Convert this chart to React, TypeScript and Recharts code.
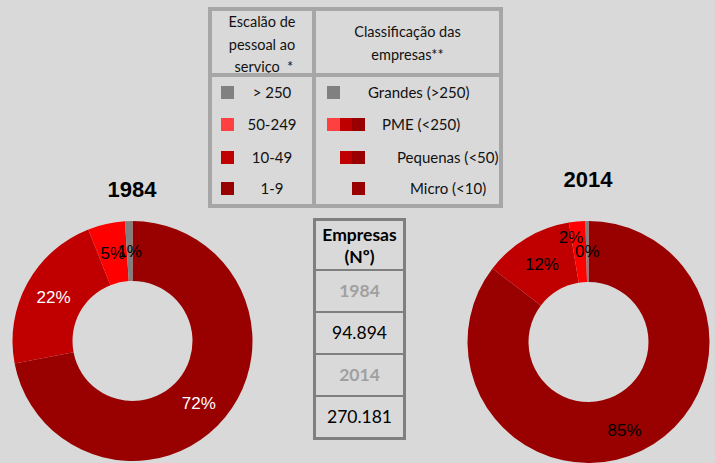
import React from 'react';
import { PieChart, Pie, Cell } from 'recharts';

// staff size classes, in the order the slices run clockwise from 12 o'clock
const sizeClasses = ['1-9', '10-49', '50-249', '> 250'];
const share1984 = [72, 22, 5, 1];
const share2014 = [85.4, 12, 2.2, 0.4];

const legendSizes = ['> 250', '50-249', '10-49', '1-9'];
const classLabels = ['Grandes (>250)', 'PME (<250)', 'Pequenas (<50)', 'Micro (<10)'];
const companyYears = ['1984', '2014'];
const companyCounts = ['94.894', '270.181'];

const SLICE_COLORS = ['#990000', '#c00000', '#ff0000', '#808080'];
const LEGEND_COLORS = ['#808080', '#ff4040', '#c00000', '#990000'];
const CLASS_SWATCHES = [
  ['#808080'],
  ['#ff4040', '#c00000', '#990000'],
  ['#c00000', '#990000'],
  ['#990000'],
];
const CLASS_SWATCH_LEFT = [327, 327, 339.5, 352];
const CLASS_TEXT_LEFT = [368, 382, 397, 410];
const ROW_Y = [92, 124, 157, 188];

const LABEL_COLORS_1984 = ['#ffffff', '#ffffff', '#000000', '#000000'];
const LABEL_COLORS_2014 = ['#000000', '#000000', '#000000', '#000000'];
const NUDGE_1984 = [[-3, 5], [0, 0], [0, 0], [0, 0]];
const NUDGE_2014 = [[-4, 7], [0, 0], [-9, -14], [0, 0]];

const BG = '#d9d9d9';
const SANS = '"Liberation Sans", Arial, sans-serif';
const CAL = 'Lato, "Open Sans", sans-serif';

const data1984 = sizeClasses.map((name, i) => ({ name, value: share1984[i] }));
const data2014 = sizeClasses.map((name, i) => ({ name, value: share2014[i] }));

const RAD = Math.PI / 180;

const makeLabel = (colors: string[], nudges: number[][]) => (props: any) => {
  const { cx, cy, midAngle, innerRadius, outerRadius, percent, index } = props;
  const r = (innerRadius + outerRadius) / 2;
  const x = cx + r * Math.cos(-midAngle * RAD) + nudges[index][0];
  const y = cy + r * Math.sin(-midAngle * RAD) + nudges[index][1];
  return (
    <text
      x={x}
      y={y}
      fill={colors[index]}
      textAnchor="middle"
      dominantBaseline="central"
      fontSize={17}
      fontFamily={SANS}
    >
      {`${Math.round(percent * 100)}%`}
    </text>
  );
};

const abs = (s: React.CSSProperties): React.CSSProperties => ({ position: 'absolute', ...s });

export default function App() {
  return (
    <div style={abs({ left: 0, top: 0, width: 715, height: 463, background: BG, overflow: 'hidden' })}>
      <PieChart width={715} height={463} margin={{ top: 0, right: 0, bottom: 0, left: 0 }}>
        <Pie
          data={data1984}
          dataKey="value"
          cx={132.5}
          cy={341}
          innerRadius={60}
          outerRadius={120}
          startAngle={90}
          endAngle={-270}
          stroke="none"
          labelLine={false}
          label={makeLabel(LABEL_COLORS_1984, NUDGE_1984)}
          isAnimationActive={false}
        >
          {data1984.map((d, i) => <Cell key={`a-${i}`} fill={SLICE_COLORS[i]} />)}
        </Pie>
        <Pie
          data={data2014}
          dataKey="value"
          cx={588.5}
          cy={342}
          innerRadius={60}
          outerRadius={121}
          startAngle={90}
          endAngle={-270}
          stroke="none"
          labelLine={false}
          label={makeLabel(LABEL_COLORS_2014, NUDGE_2014)}
          isAnimationActive={false}
        >
          {data2014.map((d, i) => <Cell key={`b-${i}`} fill={SLICE_COLORS[i]} />)}
        </Pie>
      </PieChart>

      {/* pie titles */}
      <div style={abs({ left: 82, top: 177, width: 100, textAlign: 'center', font: `bold 22px ${SANS}`, lineHeight: '26px' })}>
        1984
      </div>
      <div style={abs({ left: 538, top: 167, width: 100, textAlign: 'center', font: `bold 22px ${SANS}`, lineHeight: '26px' })}>
        2014
      </div>

      {/* legend table */}
      <div style={abs({ left: 208, top: 7, width: 295, height: 201, border: '4px solid #a6a6a6', boxSizing: 'border-box' })} />
      <div style={abs({ left: 312, top: 7, width: 4, height: 201, background: '#a6a6a6' })} />
      <div style={abs({ left: 208, top: 73, width: 295, height: 4, background: '#a6a6a6' })} />
      <div style={abs({ left: 212, top: 11, width: 100, height: 62, overflow: 'hidden', textAlign: 'center', font: `14.5px ${CAL}`, lineHeight: '22.5px', color: '#111' })}>
        Escalão de<br />pessoal ao<br />&nbsp;serviço&nbsp; *
      </div>
      <div style={abs({ left: 316, top: 21, width: 183, textAlign: 'center', font: `14.5px ${CAL}`, lineHeight: '22.5px', color: '#111' })}>
        Classificação das<br />empresas**
      </div>
      {legendSizes.map((s, i) => (
        <React.Fragment key={`ls-${i}`}>
          <div style={abs({ left: 221, top: ROW_Y[i] - 6.5, width: 13, height: 13, background: LEGEND_COLORS[i] })} />
          <div style={abs({ left: 242, top: ROW_Y[i] - 11, width: 60, textAlign: 'center', font: `15px ${CAL}`, lineHeight: '22px', color: '#111' })}>
            {s}
          </div>
        </React.Fragment>
      ))}
      {classLabels.map((s, i) => (
        <React.Fragment key={`cl-${i}`}>
          {CLASS_SWATCHES[i].map((c, j) => (
            <div key={j} style={abs({ left: CLASS_SWATCH_LEFT[i] + j * 12.7, top: ROW_Y[i] - 6.5, width: 12.7, height: 13, background: c })} />
          ))}
          <div style={abs({ left: CLASS_TEXT_LEFT[i], top: ROW_Y[i] - 11, font: `15px ${CAL}`, lineHeight: '22px', color: '#111', whiteSpace: 'nowrap' })}>
            {s}
          </div>
        </React.Fragment>
      ))}

      {/* company count table */}
      <div style={abs({ left: 313, top: 218, width: 93, height: 222, border: '3px solid #7f7f7f', boxSizing: 'border-box', display: 'flex', flexDirection: 'column', font: `17.5px ${CAL}`, color: '#000', textAlign: 'center' })}>
        <div style={{ height: 50, borderBottom: '2px solid #7f7f7f', fontWeight: 'bold', lineHeight: '22px', paddingTop: 3, boxSizing: 'border-box' }}>
          Empresas<br />(Nº)
        </div>
        {companyYears.map((y, i) => (
          <React.Fragment key={`cy-${i}`}>
            <div style={{ height: 42, borderBottom: '2px solid #7f7f7f', fontWeight: 'bold', color: '#a0a0a0', lineHeight: '40px', boxSizing: 'border-box' }}>
              {y}
            </div>
            <div style={{ height: i === 0 ? 42 : 40, borderBottom: i === 0 ? '2px solid #7f7f7f' : 'none', lineHeight: '40px', boxSizing: 'border-box' }}>
              {companyCounts[i]}
            </div>
          </React.Fragment>
        ))}
      </div>
    </div>
  );
}
